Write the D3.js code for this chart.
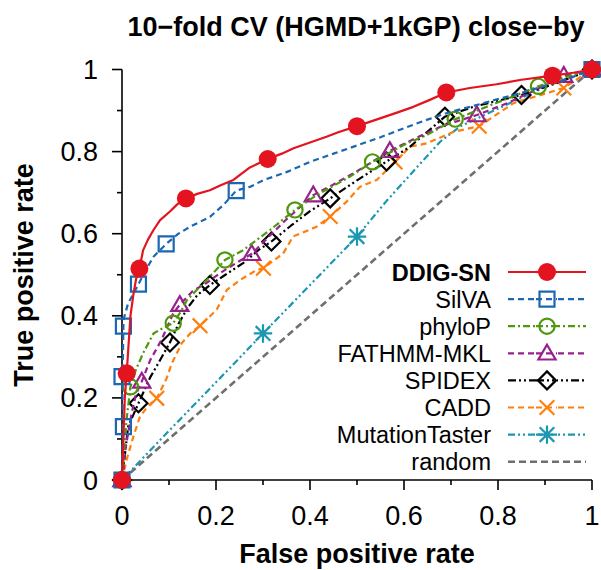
<!DOCTYPE html>
<html>
<head>
<meta charset="utf-8">
<script src="https://cdn.jsdelivr.net/npm/d3@7"></script>
<style>
  html, body { margin: 0; padding: 0; background: #fff; }
  svg { display: block; font-family: "Liberation Sans", Arial, Helvetica, sans-serif; }
</style>
</head>
<body>
<svg id="chart" width="601" height="570"></svg>
<script>
// ROC curves: [false positive rate, true positive rate]
const ddigSN = [[0,0],[0.003,0.1],[0.006,0.2],[0.010,0.26],[0.014,0.33],[0.018,0.40],[0.024,0.45],[0.030,0.49],[0.037,0.515],[0.045,0.56],[0.055,0.585],[0.067,0.609],[0.081,0.633],[0.102,0.654],[0.118,0.672],[0.136,0.686],[0.16,0.697],[0.187,0.706],[0.21,0.718],[0.237,0.731],[0.27,0.76],[0.31,0.782],[0.34,0.795],[0.365,0.808],[0.40,0.822],[0.435,0.836],[0.46,0.847],[0.5,0.862],[0.549,0.881],[0.585,0.895],[0.62,0.909],[0.655,0.926],[0.69,0.944],[0.74,0.955],[0.797,0.964],[0.85,0.975],[0.916,0.985],[0.96,0.992],[1,1]];
const ddigSNMarks = [[0,0],[0.010,0.26],[0.037,0.515],[0.136,0.686],[0.31,0.782],[0.5,0.862],[0.69,0.944],[0.916,0.985],[1,1]];

const silva = [[0,0],[0.002,0.13],[0.001,0.2],[0,0.252],[0.002,0.3],[0.003,0.375],[0.003,0.39],[0.013,0.43],[0.035,0.477],[0.05,0.51],[0.067,0.544],[0.094,0.575],[0.12,0.6],[0.145,0.617],[0.187,0.641],[0.216,0.67],[0.243,0.705],[0.272,0.714],[0.3,0.73],[0.35,0.75],[0.4,0.775],[0.45,0.795],[0.5,0.815],[0.55,0.835],[0.6,0.857],[0.65,0.878],[0.7,0.897],[0.75,0.912],[0.8,0.928],[0.85,0.943],[0.9,0.96],[0.95,0.978],[1,1]];
const silvaMarks = [[0,0],[0.003,0.13],[0,0.252],[0.003,0.375],[0.035,0.477],[0.094,0.575],[0.243,0.705],[1,1]];

const phyloP = [[0,0],[0.005,0.08],[0.01,0.15],[0.018,0.227],[0.03,0.27],[0.045,0.309],[0.067,0.357],[0.09,0.372],[0.109,0.382],[0.125,0.41],[0.138,0.438],[0.159,0.463],[0.187,0.495],[0.219,0.536],[0.258,0.56],[0.287,0.585],[0.315,0.609],[0.368,0.658],[0.414,0.694],[0.485,0.739],[0.533,0.775],[0.606,0.82],[0.648,0.84],[0.709,0.879],[0.8,0.92],[0.886,0.959],[0.94,0.98],[1,1]];
const phyloPMarks = [[0,0],[0.018,0.227],[0.109,0.382],[0.219,0.536],[0.368,0.658],[0.533,0.775],[0.709,0.879],[0.886,0.959],[1,1]];

const fathmm = [[0,0],[0.008,0.08],[0.02,0.16],[0.03,0.21],[0.042,0.24],[0.06,0.292],[0.084,0.341],[0.095,0.37],[0.109,0.406],[0.123,0.427],[0.15,0.46],[0.18,0.48],[0.21,0.505],[0.245,0.53],[0.276,0.551],[0.31,0.59],[0.35,0.635],[0.407,0.694],[0.45,0.72],[0.5,0.752],[0.57,0.802],[0.62,0.83],[0.68,0.862],[0.755,0.889],[0.82,0.918],[0.88,0.95],[0.94,0.985],[1,1]];
const fathmmMarks = [[0,0],[0.042,0.24],[0.123,0.427],[0.276,0.551],[0.407,0.694],[0.57,0.802],[0.755,0.889],[0.94,0.985],[1,1]];

const spidex = [[0,0],[0.005,0.05],[0.013,0.13],[0.035,0.187],[0.05,0.225],[0.06,0.25],[0.08,0.29],[0.102,0.335],[0.12,0.38],[0.14,0.42],[0.16,0.45],[0.187,0.475],[0.22,0.5],[0.26,0.53],[0.29,0.56],[0.318,0.581],[0.36,0.62],[0.4,0.655],[0.443,0.686],[0.5,0.73],[0.563,0.776],[0.613,0.812],[0.687,0.885],[0.747,0.909],[0.85,0.938],[0.92,0.965],[1,1]];
const spidexMarks = [[0,0],[0.035,0.187],[0.102,0.335],[0.187,0.475],[0.318,0.581],[0.443,0.686],[0.563,0.776],[0.687,0.885],[0.85,0.938],[1,1]];

const cadd = [[0,0],[0.01,0.05],[0.024,0.105],[0.038,0.154],[0.055,0.18],[0.074,0.199],[0.095,0.248],[0.106,0.284],[0.127,0.333],[0.145,0.357],[0.166,0.376],[0.201,0.414],[0.223,0.463],[0.251,0.487],[0.287,0.512],[0.301,0.516],[0.343,0.552],[0.364,0.593],[0.414,0.617],[0.443,0.642],[0.478,0.678],[0.506,0.714],[0.542,0.731],[0.581,0.775],[0.613,0.812],[0.648,0.82],[0.705,0.848],[0.76,0.862],[0.833,0.918],[0.94,0.955],[1,1]];
const caddMarks = [[0,0],[0.074,0.199],[0.166,0.376],[0.301,0.516],[0.443,0.642],[0.581,0.775],[0.76,0.862],[0.94,0.955],[1,1]];

const mutationTaster = [[0,0],[0.1,0.12],[0.2,0.238],[0.3,0.357],[0.4,0.475],[0.5,0.593],[0.563,0.68],[0.634,0.77],[0.677,0.824],[0.719,0.861],[0.84,0.926],[0.91,0.962],[1,1]];
const mutationTasterMarks = [[0,0],[0.3,0.357],[0.5,0.593],[1,1]];

const randomLine = [[0,0],[1,1]];

const seriesNames = ["DDIG-SN","SilVA","phyloP","FATHMM-MKL","SPIDEX","CADD","MutationTaster","random"];
const xTicks = [0,0.1,0.2,0.3,0.4,0.5,0.6,0.7,0.8,0.9,1];
const yTicks = [0,0.1,0.2,0.3,0.4,0.5,0.6,0.7,0.8,0.9,1];
const titleText = "10\u2212fold CV (HGMD+1kGP) close\u2212by";

// Styles per series
const styles = {
  "DDIG-SN":        {curve: ddigSN, marks: ddigSNMarks, color: "#e3131f", dash: null, shape: "dot", width: 2.2},
  "SilVA":          {curve: silva, marks: silvaMarks, color: "#1c67b2", dash: "6,4", shape: "square", width: 2.2},
  "phyloP":         {curve: phyloP, marks: phyloPMarks, color: "#4f980e", dash: "7,3,2,3", shape: "circle", width: 2.2},
  "FATHMM-MKL":     {curve: fathmm, marks: fathmmMarks, color: "#96218c", dash: "6,4", shape: "triangle", width: 2.2},
  "SPIDEX":         {curve: spidex, marks: spidexMarks, color: "#000000", dash: "8,3,2,3,2,3", shape: "diamond", width: 2.2},
  "CADD":           {curve: cadd, marks: caddMarks, color: "#ff7f0e", dash: "6,4", shape: "x", width: 2.2},
  "MutationTaster": {curve: mutationTaster, marks: mutationTasterMarks, color: "#1b97b1", dash: "7,3,2,3,2,3", shape: "asterisk", width: 2.2},
  "random":         {curve: randomLine, marks: [], color: "#6f6f6f", dash: "7,4", shape: null, width: 2.6}
};

const svg = d3.select("#chart");
const x = d3.scaleLinear().domain([0, 1]).range([122, 592]);
const y = d3.scaleLinear().domain([0, 1]).range([480, 69.5]);

// Marker path builders (centered at 0,0)
function markerPath(shape) {
  const p = d3.path();
  if (shape === "square") { const h = 7.5; p.rect(-h, -h, 2*h, 2*h); }
  else if (shape === "circle") { p.arc(0, 0, 7.6, 0, 2*Math.PI); p.closePath(); }
  else if (shape === "dot") { p.arc(0, 0, 9, 0, 2*Math.PI); p.closePath(); }
  else if (shape === "triangle") { const s = 8.6; p.moveTo(0, -s*1.0); p.lineTo(s, s*0.72); p.lineTo(-s, s*0.72); p.closePath(); }
  else if (shape === "diamond") { const s = 9; p.moveTo(0, -s); p.lineTo(s, 0); p.lineTo(0, s); p.lineTo(-s, 0); p.closePath(); }
  else if (shape === "x") { const s = 7.3; p.moveTo(-s, -s); p.lineTo(s, s); p.moveTo(-s, s); p.lineTo(s, -s); }
  else if (shape === "asterisk") { const s = 7.3, t = 9.2; p.moveTo(-s, -s); p.lineTo(s, s); p.moveTo(-s, s); p.lineTo(s, -s); p.moveTo(0, -t); p.lineTo(0, t); p.moveTo(-t, 0); p.lineTo(t, 0); }
  return p.toString();
}

function drawMarker(g, shape, color, cx, cy) {
  const path = g.append("path").attr("d", markerPath(shape)).attr("transform", `translate(${cx},${cy})`);
  if (shape === "dot") path.attr("fill", color).attr("stroke", "none");
  else path.attr("fill", "none").attr("stroke", color).attr("stroke-width", 2.2);
}

const line = d3.line().x(d => x(d[0])).y(d => y(d[1]));

// Title
svg.append("text").attr("x", 356).attr("y", 36).attr("text-anchor", "middle")
  .attr("font-size", 27).attr("font-weight", "bold").text(titleText);

// Axes
const xAxisG = svg.append("g").attr("transform", "translate(0,480)");
xAxisG.append("line").attr("x1", x(0)).attr("x2", x(1)).attr("stroke", "#000").attr("stroke-width", 1.6);
xAxisG.selectAll(".tk").data(xTicks).join("line")
  .attr("x1", d => x(d)).attr("x2", d => x(d)).attr("y1", 0)
  .attr("y2", (d, i) => i % 2 === 0 ? 10 : 5).attr("stroke", "#000").attr("stroke-width", 1.6);
xAxisG.selectAll(".lb").data(xTicks.filter((d, i) => i % 2 === 0)).join("text")
  .attr("x", d => x(d)).attr("y", 45).attr("text-anchor", "middle").attr("font-size", 27)
  .text(d => d3.format("")(+d.toFixed(1)));

const yAxisG = svg.append("g").attr("transform", "translate(122,0)");
yAxisG.append("line").attr("y1", y(0)).attr("y2", y(1)).attr("stroke", "#000").attr("stroke-width", 1.6);
yAxisG.selectAll(".tk").data(yTicks).join("line")
  .attr("y1", d => y(d)).attr("y2", d => y(d)).attr("x1", 0)
  .attr("x2", (d, i) => i % 2 === 0 ? -10 : -5).attr("stroke", "#000").attr("stroke-width", 1.6);
yAxisG.selectAll(".lb").data(yTicks.filter((d, i) => i % 2 === 0)).join("text")
  .attr("x", -24).attr("y", d => y(d) + 9.5).attr("text-anchor", "end").attr("font-size", 27)
  .text(d => d3.format("")(+d.toFixed(1)));

// Axis titles
svg.append("text").attr("x", 357).attr("y", 563).attr("text-anchor", "middle")
  .attr("font-size", 27).attr("font-weight", "bold").text("False positive rate");
svg.append("text").attr("transform", "translate(33,275) rotate(-90)").attr("text-anchor", "middle")
  .attr("font-size", 27).attr("font-weight", "bold").text("True positive rate");

// Curves, drawn bottom-up so DDIG-SN sits on top
const plotG = svg.append("g");
seriesNames.slice().reverse().forEach(name => {
  const s = styles[name];
  const g = plotG.append("g");
  g.append("path").datum(s.curve).attr("d", line).attr("fill", "none")
    .attr("stroke", s.color).attr("stroke-width", s.width)
    .attr("stroke-dasharray", s.dash).attr("stroke-linejoin", "round");
  s.marks.forEach(m => drawMarker(g, s.shape, s.color, x(m[0]), y(m[1])));
});

// Legend
const legendG = svg.append("g");
seriesNames.forEach((name, i) => {
  const s = styles[name];
  const cy = 272 + i * 27.1;
  legendG.append("text").attr("x", 491).attr("y", cy + 8.5).attr("text-anchor", "end")
    .attr("font-size", 23.5).attr("font-weight", name === "DDIG-SN" ? "bold" : "normal").text(name);
  legendG.append("line").attr("x1", 508).attr("x2", 586).attr("y1", cy).attr("y2", cy)
    .attr("stroke", s.color).attr("stroke-width", s.width).attr("stroke-dasharray", s.dash);
  if (s.shape) {
    legendG.append("rect").attr("x", 536).attr("y", cy - 10).attr("width", 21).attr("height", 20).attr("fill", "#fff");
    legendG.append("line").attr("x1", 536).attr("x2", 557).attr("y1", cy).attr("y2", cy)
      .attr("stroke", s.color).attr("stroke-width", s.width).attr("stroke-dasharray", s.dash);
    drawMarker(legendG, s.shape, s.color, 547, cy);
  }
});
</script>
</body>
</html>
